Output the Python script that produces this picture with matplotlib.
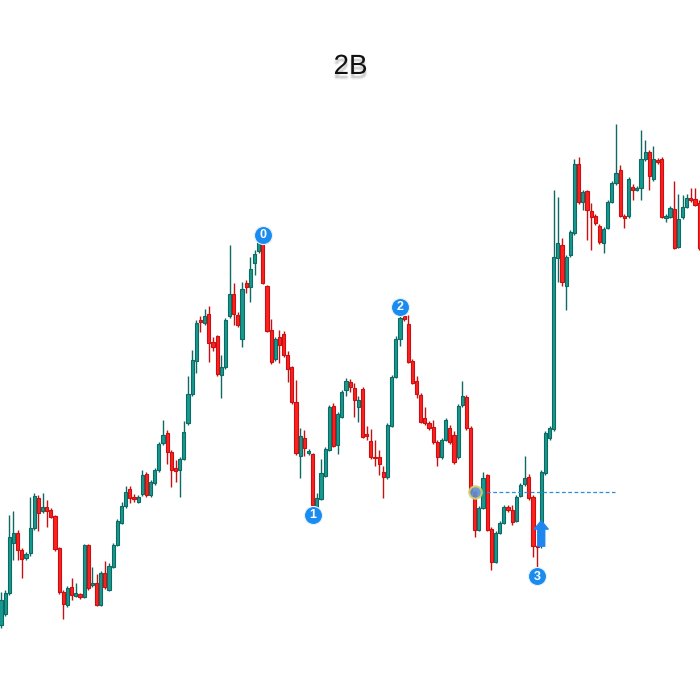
import matplotlib
matplotlib.use("Agg")
import matplotlib.pyplot as plt
import matplotlib.patheffects as pe
import numpy as np

# candle data (arbitrary price units)
opens = [75, 86, 107, 157, 167, 150, 142, 147, 172, 202,
         189, 193, 190, 184, 152, 108, 95, 113, 104, 106,
         103, 155, 115, 117, 95, 127, 110, 133, 155, 177,
         194, 211, 203, 198, 206, 226, 205, 217, 230, 257,
         267, 248, 232, 230, 241, 277, 306, 339, 380, 377,
         386, 358, 364, 325, 333, 384, 406, 385, 361, 417,
         413, 437, 449, 458, 414, 370, 341, 363, 366, 345,
         333, 298, 244, 262, 247, 246, 193, 201, 224, 250,
         294, 255, 283, 310, 318, 312, 293, 311, 266, 259,
         243, 243, 228, 223, 274, 323, 361, 384, 376, 339,
         319, 305, 282, 277, 273, 258, 243, 260, 272, 265,
         243, 295, 303, 272, 208, 170, 192, 225, 171, 138,
         167, 177, 193, 190, 179, 204, 216, 223, 203, 154,
         156, 227, 262, 271, 442, 455, 414, 445, 467, 536,
         498, 509, 489, 484, 474, 457, 472, 498, 517, 530,
         484, 484, 513, 510, 512, 541, 548, 521, 540, 541,
         482, 483, 491, 453, 483, 493, 502, 501, 497]
closes = [100, 107, 163, 167, 150, 141, 146, 172, 204, 187,
          193, 189, 183, 151, 108, 96, 112, 105, 107, 103,
          155, 112, 117, 95, 127, 113, 134, 155, 179, 194,
          208, 202, 201, 203, 225, 205, 218, 230, 256, 265,
          248, 230, 229, 241, 268, 306, 340, 377, 378, 384,
          357, 353, 326, 333, 380, 406, 386, 375, 411, 413,
          431, 446, 458, 417, 369, 338, 361, 355, 345, 331,
          298, 247, 264, 252, 249, 195, 202, 227, 251, 293,
          254, 286, 308, 319, 313, 300, 300, 263, 264, 243,
          242, 236, 223, 275, 323, 361, 382, 381, 338, 317,
          306, 278, 277, 272, 258, 243, 260, 280, 258, 238,
          294, 304, 272, 208, 170, 192, 222, 170, 138, 167,
          177, 193, 190, 178, 203, 215, 222, 202, 154, 153,
          228, 267, 272, 443, 457, 418, 443, 468, 536, 498,
          508, 490, 483, 477, 458, 471, 498, 517, 527, 484,
          482, 521, 510, 512, 541, 548, 524, 541, 538, 483,
          484, 492, 452, 481, 493, 502, 500, 495, 452]
highs = [108, 110, 185, 189, 170, 152, 148, 203, 207, 205,
         207, 200, 192, 185, 153, 110, 114, 122, 117, 107,
         156, 156, 133, 126, 129, 139, 137, 157, 181, 198,
         214, 214, 206, 205, 230, 228, 220, 232, 258, 280,
         270, 250, 240, 243, 279, 324, 350, 380, 384, 391,
         394, 363, 365, 345, 382, 455, 417, 388, 418, 420,
         443, 450, 462, 460, 415, 381, 363, 370, 369, 349,
         334, 320, 272, 270, 251, 247, 207, 241, 253, 295,
         297, 288, 310, 322, 321, 317, 304, 313, 274, 271,
         260, 250, 234, 277, 325, 364, 384, 387, 385, 341,
         324, 307, 293, 279, 280, 260, 262, 282, 275, 269,
         296, 319, 305, 274, 210, 194, 228, 226, 173, 169,
         179, 195, 195, 195, 205, 217, 244, 226, 205, 155,
         230, 269, 274, 510, 503, 462, 445, 470, 541, 543,
         510, 510, 497, 486, 476, 473, 500, 519, 576, 535,
         486, 523, 516, 514, 570, 560, 550, 554, 542, 543,
         486, 494, 519, 506, 505, 506, 512, 512, 500]
lows = [72, 84, 105, 140, 140, 122, 140, 144, 170, 169,
        187, 173, 182, 149, 106, 81, 93, 100, 103, 101,
        102, 110, 113, 94, 94, 111, 109, 132, 154, 176,
        192, 197, 198, 197, 204, 203, 203, 215, 228, 255,
        236, 213, 218, 203, 240, 275, 304, 327, 368, 375,
        338, 349, 324, 302, 331, 382, 375, 373, 353, 407,
        398, 425, 447, 416, 368, 336, 339, 337, 343, 318,
        296, 245, 222, 244, 245, 194, 192, 200, 223, 249,
        253, 246, 282, 304, 308, 283, 278, 262, 260, 241,
        234, 225, 202, 221, 273, 322, 354, 379, 337, 316,
        302, 277, 275, 270, 256, 234, 241, 259, 256, 236,
        241, 293, 270, 206, 163, 169, 191, 169, 130, 137,
        166, 176, 188, 175, 178, 203, 214, 200, 143, 132,
        152, 225, 260, 269, 418, 414, 390, 443, 465, 496,
        490, 460, 450, 475, 456, 447, 471, 497, 515, 483,
        472, 482, 500, 509, 500, 539, 510, 519, 536, 482,
        478, 482, 451, 452, 481, 492, 498, 494, 450]

# pivot labels: (label, candle index, price)
pivots = [("0", 63, 465), ("1", 75, 185), ("2", 96, 393), ("3", 129, 124)]
title = "2B"

up_face, up_edge = "#17998f", "#0c6a62"
dn_face, dn_edge = "#ff2020", "#c81010"

fig = plt.figure(figsize=(7, 7), dpi=100)
ax = fig.add_axes([0, 0, 1, 1])
ax.set_xlim(-0.24, 168.2)
ax.set_ylim(0, 700)
ax.axis("off")

x = np.arange(len(opens))
o = np.array(opens)
c = np.array(closes)
up = c >= o
w = 0.76

for i in x:
    fc, ec = (up_face, up_edge) if up[i] else (dn_face, dn_edge)
    ax.vlines(i, lows[i], highs[i], color=ec, lw=1.0, zorder=2)
    lo_b = min(o[i], c[i])
    h_b = max(abs(c[i] - o[i]), 1.5)
    ax.bar(i, h_b, bottom=lo_b, width=w, color=fc, edgecolor=ec,
           linewidth=0.8, zorder=3)

# breakout level
ax.hlines(208, 113.8, 147.8, colors="#2a8fd6", linestyles=(0, (3, 2)),
          lw=0.9, zorder=4)
ax.plot(114, 208, "o", ms=9, mfc="#5f8ecf", mec="#d8d36a", mew=1.5,
        alpha=0.9, zorder=5)

# entry arrow
ax.annotate("", xy=(130, 182), xytext=(130, 151),
            arrowprops=dict(arrowstyle="simple,head_width=1.0,head_length=0.6,tail_width=0.5",
                            fc="#1f86f0", ec="#1f86f0"), zorder=6)

for lab, xi, yv in pivots:
    ax.plot(xi, yv, "o", ms=13, mfc="#1a8cf0", mec="#e8f2ff", mew=0.8, zorder=6)
    ax.text(xi, yv - 0.5, lab, color="white", fontsize=9, fontweight="bold",
            ha="center", va="center", family="Liberation Sans", zorder=7)

# title with a soft shadow
shadow = [pe.SimplePatchShadow(offset=(dx, dy), shadow_rgbFace="#777777", alpha=0.1)
          for dx, dy in [(0, -3), (-1, -3), (1, -3), (0, -4), (0, -2)]]
ax.text(84.1, 633, title, fontsize=20, ha="center", va="center",
        family="Liberation Sans", color="#111111",
        path_effects=shadow + [pe.Normal()])

fig.savefig("out.png", dpi=100, facecolor="white")
